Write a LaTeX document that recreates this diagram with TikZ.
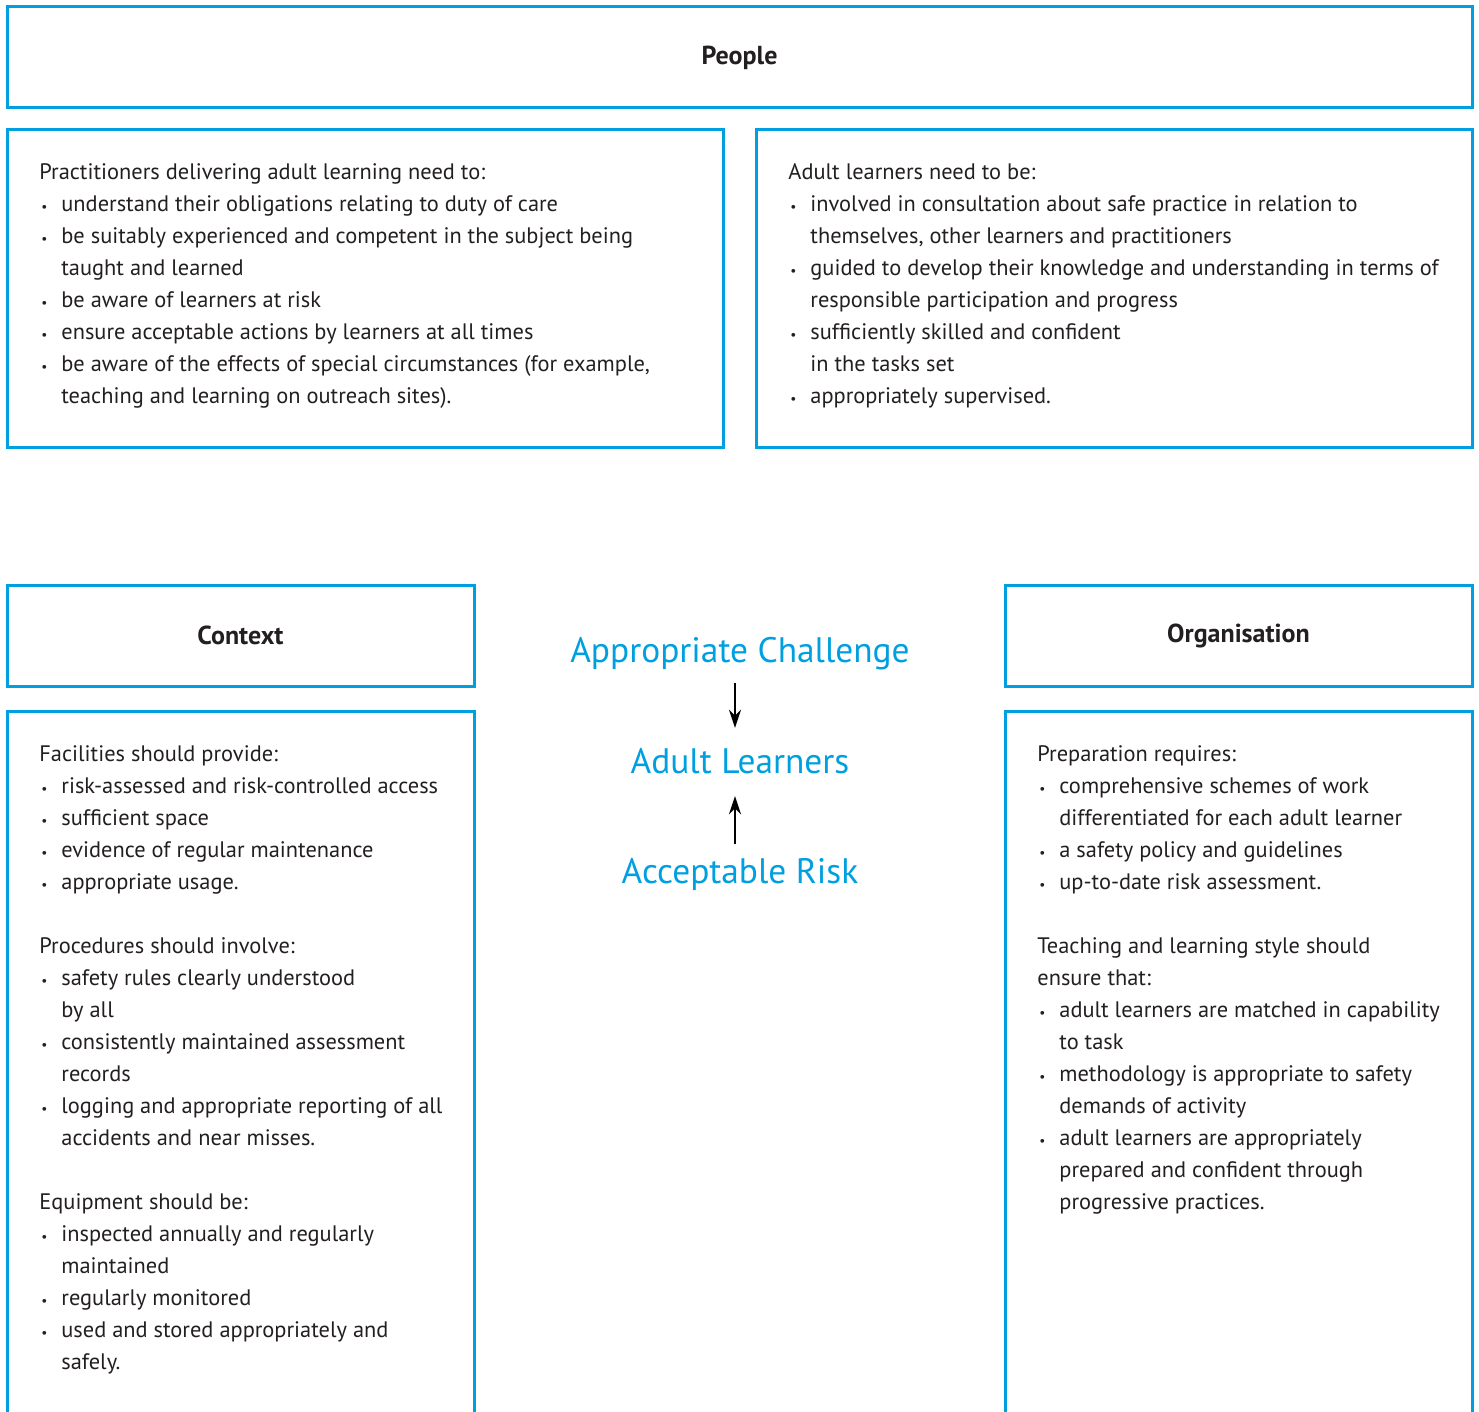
\documentclass[tikz,border=0pt]{standalone}
\usepackage{fontspec}
\setmainfont{PT Sans}
\usepackage{tikz}
\usetikzlibrary{arrows.meta,calc}
\definecolor{boxblue}{RGB}{0,160,224}
\definecolor{txtgrey}{RGB}{35,31,32}
\newcommand\bul{\makebox[11pt][l]{\hspace{1pt}\scalebox{0.6}{\textbullet}}}
\newcommand\ind{\hspace*{11pt}}
\tikzset{
  box/.style={draw=boxblue,line width=1.5pt},
  hdr/.style={box,font=\fontsize{13}{16}\selectfont\bfseries,text=txtgrey,minimum height=50.5pt},
  body/.style={anchor=north west,inner sep=0pt,align=left,text=txtgrey,font=\fontsize{11.2}{16}\selectfont},
  big/.style={inner sep=0pt,text=boxblue,font=\fontsize{17.7}{20}\selectfont},
  arr/.style={-{Stealth[length=9pt,width=6pt]},line width=1pt,black}
}
\begin{document}
\begin{tikzpicture}[x=0.5pt,y=-0.5pt]
\useasboundingbox (0,0) rectangle (1479,1412);
\clip (0,0) rectangle (1479,1412);
% headers
\node[hdr,minimum width=732.5pt] (people) at (739.5,57.5) {People};
\node[hdr,minimum width=233.5pt] (context) at (240.5,635.5) {Context};
\node[hdr,minimum width=233.5pt] (organisation) at (1238.5,635.5) {Organisation};
% frames
\draw[box] (7,130) rectangle (723,447);
\draw[box] (756,130) rectangle (1472,447);
\draw[box] (7,711) rectangle (474,1440);
\draw[box] (1005,711) rectangle (1472,1440);
% people
\node[body] (pract) at (39,163) {Practitioners delivering adult learning need to:\\
\bul understand their obligations relating to duty of care\\
\bul be suitably experienced and competent in the subject being\\
\ind taught and learned\\
\bul be aware of learners at risk\\
\bul ensure acceptable actions by learners at all times\\
\bul be aware of the effects of special circumstances (for example,\\
\ind teaching and learning on outreach sites).};
\node[body] (learners) at (788,163) {Adult learners need to be:\\
\bul involved in consultation about safe practice in relation to\\
\ind themselves, other learners and practitioners\\
\bul guided to develop their knowledge and understanding in terms of\\
\ind responsible participation and progress\\
\bul sufficiently skilled and confident\\
\ind in the tasks set\\
\bul appropriately supervised.};
% context
\node[body] (facil) at (39,745) {Facilities should provide:\\
\bul risk-assessed and risk-controlled access\\
\bul sufficient space\\
\bul evidence of regular maintenance\\
\bul appropriate usage.\\[16pt]
Procedures should involve:\\
\bul safety rules clearly understood\\
\ind by all\\
\bul consistently maintained assessment\\
\ind records\\
\bul logging and appropriate reporting of all\\
\ind accidents and near misses.\\[16pt]
Equipment should be:\\
\bul inspected annually and regularly\\
\ind maintained\\
\bul regularly monitored\\
\bul used and stored appropriately and\\
\ind safely.};
% organisation
\node[body] (prep) at (1037,745) {Preparation requires:\\
\bul comprehensive schemes of work\\
\ind differentiated for each adult learner\\
\bul a safety policy and guidelines\\
\bul up-to-date risk assessment.\\[16pt]
Teaching and learning style should\\
ensure that:\\
\bul adult learners are matched in capability\\
\ind to task\\
\bul methodology is appropriate to safety\\
\ind demands of activity\\
\bul adult learners are appropriately\\
\ind prepared and confident through\\
\ind progressive practices.};
% centre
\node[big] (challenge) at (740,654) {Appropriate Challenge};
\node[big] (adult) at (740,761) {Adult Learners};
\node[big] (risk) at (740,874) {Acceptable Risk};
\draw[arr,shorten <=6pt,shorten >=10pt] ([xshift=-2.5pt]challenge.south) -- ([xshift=-2.5pt]adult.north);
\draw[arr,shorten <=6.5pt,shorten >=11pt] ([xshift=-2.5pt]risk.north) -- ([xshift=-2.5pt]adult.south);
\end{tikzpicture}
\end{document}
